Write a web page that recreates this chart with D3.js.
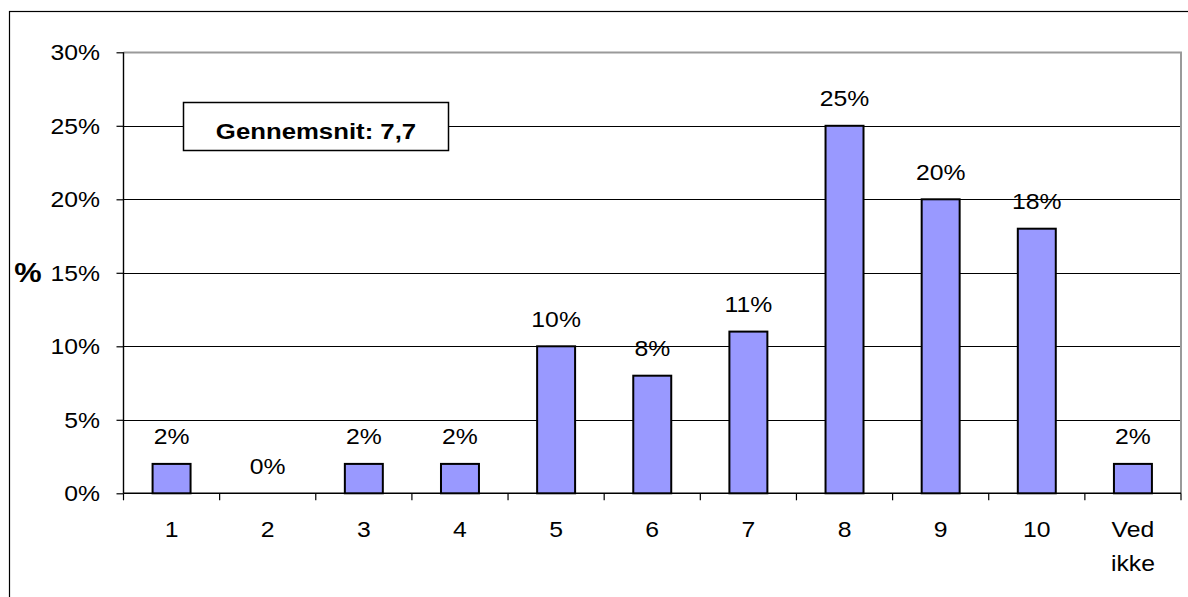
<!DOCTYPE html>
<html>
<head>
<meta charset="utf-8">
<script src="https://cdn.jsdelivr.net/npm/d3@7"></script>
<style>
  html, body { margin: 0; padding: 0; background: #fff; }
  svg { display: block; }
  text { font-family: "Liberation Sans", Arial, sans-serif; fill: #000; }
</style>
</head>
<body>
<svg id="chart" width="1188" height="597"></svg>
<script>
// Score distribution (share of respondents per answer)
const categories = ["1", "2", "3", "4", "5", "6", "7", "8", "9", "10", "Ved ikke"];
const shares = [2, 0, 2, 2, 10, 8, 11, 25, 20, 18, 2];
const yTicks = [0, 5, 10, 15, 20, 25, 30];
const averageLabel = "Gennemsnit: 7,7";
const yAxisTitle = "%";

const svg = d3.select("#chart");
const plot = { left: 123.5, right: 1181, top: 52.3, bottom: 493.3 };
const stretch = 1.1;   // text is drawn slightly wide
const fontSize = 22.5;

// outer frame
svg.append("rect")
  .attr("x", 9.5).attr("y", 11.5)
  .attr("width", 1300).attr("height", 700)
  .attr("fill", "none").attr("stroke", "#000").attr("stroke-width", 1.2);

const x = d3.scaleBand()
  .domain(categories)
  .range([plot.left, plot.right])
  .paddingInner(0.605)
  .paddingOuter(0.3025);

const y = d3.scaleLinear()
  .domain([0, 30])
  .range([plot.bottom, plot.top]);

// gridlines
svg.append("g")
  .selectAll("line")
  .data(yTicks.filter(t => t > 0 && t < 30))
  .join("line")
  .attr("x1", plot.left).attr("x2", plot.right)
  .attr("y1", d => Math.round(y(d)) + 0.5).attr("y2", d => Math.round(y(d)) + 0.5)
  .attr("stroke", "#000").attr("stroke-width", 1);

// plot area border (top and right)
svg.append("path")
  .attr("d", `M${plot.left},${Math.round(plot.top) + 0.5}H${plot.right}V${plot.bottom}`)
  .attr("fill", "none").attr("stroke", "#9a9a9a").attr("stroke-width", 2);

// y axis
const yAxis = d3.axisLeft(y).tickValues(yTicks).tickSize(7).tickFormat("");
const gy = svg.append("g")
  .attr("transform", `translate(${plot.left},0)`)
  .call(yAxis);
gy.select(".domain").remove();
gy.selectAll(".tick line").attr("stroke", "#000").attr("stroke-width", 1.2);
svg.append("line")
  .attr("x1", plot.left).attr("x2", plot.left)
  .attr("y1", plot.top).attr("y2", plot.bottom)
  .attr("stroke", "#000").attr("stroke-width", 1.4);

svg.append("g")
  .selectAll("text")
  .data(yTicks)
  .join("text")
  .attr("transform", d => `translate(100,${y(d) + 7.9}) scale(${stretch},1)`)
  .attr("text-anchor", "end")
  .style("font-size", fontSize + "px")
  .text(d => d + "%");

// x axis
const xAxis = d3.axisBottom(x).tickSize(0).tickFormat("");
svg.append("line")
  .attr("x1", plot.left).attr("x2", plot.right)
  .attr("y1", plot.bottom).attr("y2", plot.bottom)
  .attr("stroke", "#000").attr("stroke-width", 1.4);
const step = x.step();
svg.append("g")
  .selectAll("line")
  .data(d3.range(categories.length + 1))
  .join("line")
  .attr("x1", i => plot.left + i * step).attr("x2", i => plot.left + i * step)
  .attr("y1", plot.bottom).attr("y2", plot.bottom + 7)
  .attr("stroke", "#000").attr("stroke-width", 1.2);

const xLabels = svg.append("g")
  .selectAll("text")
  .data(categories)
  .join("text")
  .attr("transform", d => `translate(${x(d) + x.bandwidth() / 2},537) scale(${stretch},1)`)
  .attr("text-anchor", "middle")
  .style("font-size", fontSize + "px");
xLabels.each(function (d) {
  const words = d.split(" ");
  d3.select(this).selectAll("tspan")
    .data(words)
    .join("tspan")
    .attr("x", 0)
    .attr("dy", (w, i) => i === 0 ? 0 : 34.5)
    .text(w => w);
});

// bars
svg.append("g")
  .selectAll("rect")
  .data(categories.map((c, i) => ({ c, v: shares[i] })))
  .join("rect")
  .attr("x", d => x(d.c))
  .attr("y", d => y(d.v))
  .attr("width", x.bandwidth())
  .attr("height", d => y(0) - y(d.v))
  .attr("fill", "#9999ff")
  .attr("stroke", d => d.v > 0 ? "#000" : "none")
  .attr("stroke-width", 2);

// value labels
svg.append("g")
  .selectAll("text")
  .data(categories.map((c, i) => ({ c, v: shares[i] })))
  .join("text")
  .attr("transform", d => `translate(${x(d.c) + x.bandwidth() / 2},${y(d.v) - 19.5}) scale(${stretch},1)`)
  .attr("text-anchor", "middle")
  .style("font-size", fontSize + "px")
  .text(d => d.v + "%");

// y axis title
svg.append("text")
  .attr("transform", `translate(28,282) scale(${stretch},1)`)
  .attr("text-anchor", "middle")
  .style("font-size", "28px")
  .style("font-weight", "bold")
  .text(yAxisTitle);

// average box
svg.append("rect")
  .attr("x", 183.5).attr("y", 102.5)
  .attr("width", 265).attr("height", 48)
  .attr("fill", "#fff").attr("stroke", "#000").attr("stroke-width", 1.5);
svg.append("text")
  .attr("transform", `translate(316,138.5) scale(1.12,1)`)
  .attr("text-anchor", "middle")
  .style("font-size", "23px")
  .style("font-weight", "bold")
  .text(averageLabel);
</script>
</body>
</html>
